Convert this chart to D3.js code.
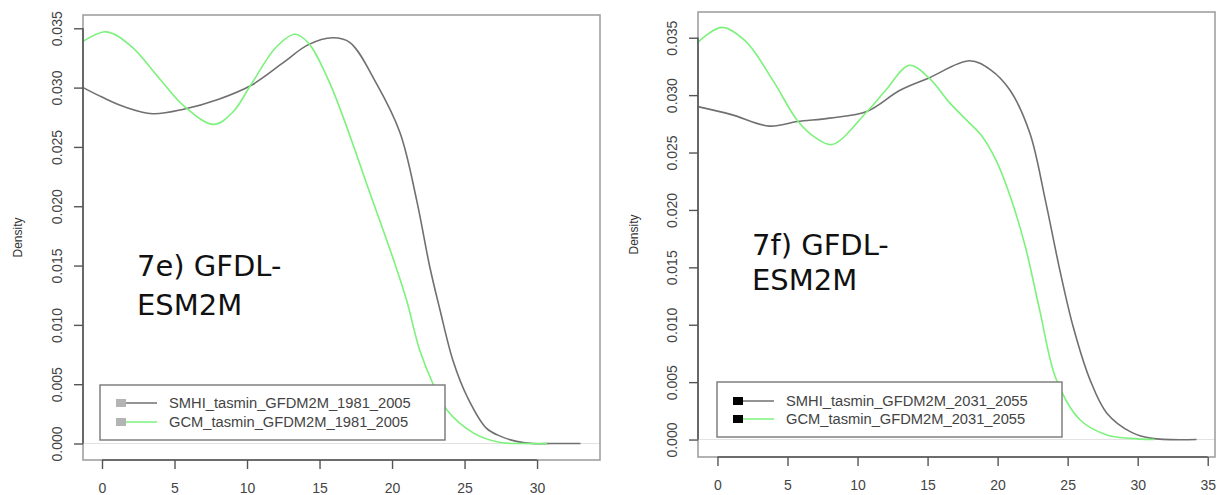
<!DOCTYPE html>
<html>
<head>
  <title>Density GFDL-ESM2M</title>
  <script src="https://d3js.org/d3.v7.min.js"></script>
  <style>
    body { margin: 0; background: #fff; }
    text { font-family: "Liberation Sans", Arial, sans-serif; }
  </style>
</head>
<body>
<script type="text/javascript">

  var w = 1219;
  var h = 495;

  // values: x = tasmin (deg C), y = density
  var smhiX_e = [-1.3, 0, 1.5, 3.5, 5.7, 8, 10.3, 12.5, 14.2, 15.9, 17.1, 18.9, 20.55, 21.7, 22.6, 23.3, 24.2, 25.2, 26.5, 27.5, 28.5, 29.7, 31, 33];
  var smhiY_e = [0.0300, 0.0292, 0.0284, 0.0278, 0.0282, 0.0290, 0.0302, 0.0321, 0.0336, 0.0342, 0.0338, 0.0304, 0.0262, 0.0205, 0.0149, 0.0113, 0.0070, 0.0039, 0.0013, 0.0006, 0.0002, 0.0000, 0.0, 0.0];
  var gcmX_e = [-1.3, 0.3, 2, 4, 5.7, 7.7, 9, 10.3, 12, 13.3, 14.2, 15.7, 18.65, 20.1, 21.0, 21.9, 22.8, 23.8, 25.6, 27.4, 29, 30.7];
  var gcmY_e = [0.0339, 0.0347, 0.0335, 0.0307, 0.0284, 0.0269, 0.0279, 0.0303, 0.0334, 0.0345, 0.0338, 0.0304, 0.0205, 0.0155, 0.0121, 0.0079, 0.0051, 0.0028, 0.0009, 0.0001, 0.0, 0.0];

  var smhiX_f = [-1.4, 1, 3.7, 5.7, 8, 10.7, 13, 15.1, 18.0, 19.5, 20.9, 22.3, 23.4, 24.4, 25.4, 26.6, 27.8, 29.6, 31, 34.2];
  var smhiY_f = [0.0290, 0.0283, 0.0273, 0.0277, 0.0280, 0.0286, 0.0304, 0.0315, 0.0330, 0.0322, 0.0304, 0.0267, 0.0209, 0.0150, 0.0098, 0.0052, 0.0023, 0.0006, 0.0001, 0.0];
  var gcmX_f = [-1.4, 0.3, 2, 4.0, 5.7, 7, 8.2, 10.7, 12, 13.7, 15.1, 16.6, 17.8, 18.9, 19.9, 20.9, 22.0, 23.0, 24.2, 25.9, 27.8, 29.5, 31.2];
  var gcmY_f = [0.0346, 0.0359, 0.0347, 0.0312, 0.0278, 0.0263, 0.0257, 0.0286, 0.0304, 0.0326, 0.0315, 0.0293, 0.0278, 0.0264, 0.0243, 0.0212, 0.0167, 0.0113, 0.0052, 0.0017, 0.0004, 0.0001, 0.0];

  var yTicks = [0, 0.005, 0.010, 0.015, 0.020, 0.025, 0.030, 0.035];
  var xTicks_e = [0, 5, 10, 15, 20, 25, 30];
  var xTicks_f = [0, 5, 10, 15, 20, 25, 30, 35];
  var legend_e = ["SMHI_tasmin_GFDM2M_1981_2005", "GCM_tasmin_GFDM2M_1981_2005"];
  var legend_f = ["SMHI_tasmin_GFDM2M_2031_2055", "GCM_tasmin_GFDM2M_2031_2055"];
  var colors = ["#707070", "#7cf27c"];

  var svg = d3.select("body").append("svg")
      .attr("width", w)
      .attr("height", h);

  function zip(xs, ys){
    return xs.map(function(x, i){ return [x, ys[i]]; });
  }

  function panel(p){
    var x = d3.scaleLinear().domain(p.xdom).range([p.left, p.right]);
    var y = d3.scaleLinear().domain(p.ydom).range([p.bottom, p.top]);
    var g = svg.append("g");

    // zero line like plot.density
    g.append("line")
      .attr("x1", p.left).attr("x2", p.right)
      .attr("y1", y(0)).attr("y2", y(0))
      .attr("stroke", "#e2e2e2").attr("stroke-width", 1);

    var line = d3.line()
      .x(function(d){ return x(d[0]); })
      .y(function(d){ return y(d[1]); })
      .curve(d3.curveCatmullRom.alpha(0.5));

    p.series.forEach(function(s, i){
      g.append("path")
        .attr("d", line(s))
        .attr("fill", "none")
        .attr("stroke", colors[i])
        .attr("stroke-width", 1.6);
    });

    // box
    g.append("rect")
      .attr("x", p.left).attr("y", p.top)
      .attr("width", p.right - p.left).attr("height", p.bottom - p.top)
      .attr("fill", "none").attr("stroke", "#a0a0a0").attr("stroke-width", 1.6);

    // y axis
    var ya = g.append("g").attr("transform", "translate(" + p.left + ",0)")
      .call(d3.axisLeft(y).tickValues(yTicks).tickSize(9).tickFormat(d3.format(".3f")));
    ya.select(".domain").remove();
    ya.append("line")
      .attr("y1", y(0)).attr("y2", y(0.035))
      .attr("stroke", "#555").attr("stroke-width", 1.6);
    ya.selectAll(".tick line").attr("stroke", "#555").attr("stroke-width", 1.4);
    ya.selectAll(".tick text")
      .attr("x", null).attr("dy", null)
      .attr("transform", "translate(" + (p.ylabX - p.left) + ",0) rotate(-90)")
      .attr("text-anchor", "middle")
      .attr("fill", "#444")
      .style("font-size", "14px");

    // x axis
    var xa = g.append("g").attr("transform", "translate(0," + p.bottom + ")")
      .call(d3.axisBottom(x).tickValues(p.xticks).tickSize(9).tickFormat(d3.format("d")));
    xa.select(".domain").remove();
    xa.append("line")
      .attr("x1", x(p.xticks[0])).attr("x2", x(p.xticks[p.xticks.length - 1]))
      .attr("stroke", "#555").attr("stroke-width", 1.6);
    xa.selectAll(".tick line").attr("stroke", "#555").attr("stroke-width", 1.4);
    xa.selectAll(".tick text")
      .attr("y", p.xlabY - p.bottom).attr("dy", null)
      .attr("fill", "#444")
      .style("font-size", "14px");

    // Density label
    g.append("text")
      .attr("transform", "translate(" + p.dens + "," + ((p.top + p.bottom) / 2) + ") rotate(-90)")
      .attr("text-anchor", "middle")
      .attr("fill", "#333")
      .style("font-size", "12px")
      .text("Density");

    // legend
    var lg = g.append("g");
    lg.append("rect")
      .attr("x", p.leg[0]).attr("y", p.leg[1])
      .attr("width", p.leg[2]).attr("height", p.leg[3])
      .attr("fill", "#fff").attr("stroke", "#777").attr("stroke-width", 1.4);
    p.legText.forEach(function(t, i){
      var ry = p.leg[1] + p.rows[i];
      lg.append("line")
        .attr("x1", p.leg[0] + 20).attr("x2", p.leg[0] + 57)
        .attr("y1", ry).attr("y2", ry)
        .attr("stroke", colors[i]).attr("stroke-width", 1.6);
      lg.append("rect")
        .attr("x", p.leg[0] + 16).attr("y", ry - 4)
        .attr("width", 10).attr("height", 8)
        .attr("fill", p.mark);
      lg.append("text")
        .attr("x", p.leg[0] + 69).attr("y", ry + 5)
        .attr("fill", "#444")
        .style("font-size", "14.7px")
        .text(t);
    });

    // panel title
    p.title.forEach(function(t, i){
      g.append("text")
        .attr("x", p.tx).attr("y", p.ty[i])
        .style("font-family", "'DejaVu Sans', Verdana, sans-serif")
        .style("font-size", "29px")
        .attr("fill", "#111")
        .text(t);
    });
  }

  panel({
    left: 83, right: 600, top: 15, bottom: 460,
    xdom: [-1.31, 34.34], ydom: [-0.00139, 0.03612],
    xticks: xTicks_e, ylabX: 62, xlabY: 493, dens: 22,
    series: [zip(smhiX_e, smhiY_e), zip(gcmX_e, gcmY_e)],
    leg: [100, 385, 345, 55], rows: [18, 37], legText: legend_e, mark: "#b4b4b4",
    title: ["7e) GFDL-", "ESM2M"], tx: 137, ty: [276, 315]
  });

  panel({
    left: 698, right: 1215, top: 12, bottom: 457,
    xdom: [-1.39, 35.52], ydom: [-0.00152, 0.03724],
    xticks: xTicks_f, ylabX: 677, xlabY: 490, dens: 638,
    series: [zip(smhiX_f, smhiY_f), zip(gcmX_f, gcmY_f)],
    leg: [717, 382, 345, 55], rows: [19, 37], legText: legend_f, mark: "#000",
    title: ["7f) GFDL-", "ESM2M"], tx: 752, ty: [255, 290]
  });

</script>
</body>
</html>
